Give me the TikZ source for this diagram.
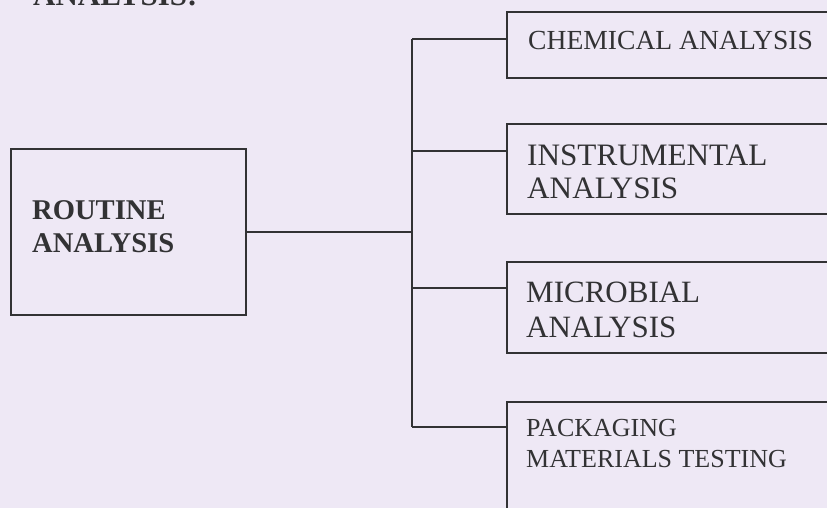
\documentclass[tikz,border=0pt]{standalone}
\usepackage{fontspec}
\setmainfont{Liberation Serif}
\definecolor{paper}{RGB}{238,232,245}
\definecolor{ink}{RGB}{50,50,52}
\tikzset{
  boxline/.style={draw=ink, line width=2pt, rectangle, inner sep=0pt},
  wire/.style={draw=ink, line width=1.9pt},
  txt/.style={anchor=base west, inner sep=0pt, text=ink},
}
\begin{document}
\begin{tikzpicture}[x=1pt,y=-1pt]
\useasboundingbox (0,0) rectangle (827,508);
\clip (0,0) rectangle (827,508);
\fill[paper] (0,0) rectangle (827,508);

% title fragment (cut off at the top, as in the reference)
\node[txt, font=\fontsize{31}{33}\selectfont\bfseries] (title) at (33,6) {ANALYSIS:};

% boxes
\node[boxline, minimum width=235pt, minimum height=165pt] (routine) at (128.5,232) {};
\node[boxline, minimum width=340pt, minimum height=66pt] (chem) at (677,45) {};
\node[boxline, minimum width=340pt, minimum height=90pt] (instr) at (677,169) {};
\node[boxline, minimum width=340pt, minimum height=91pt] (micro) at (677,307.5) {};
\node[boxline, minimum width=340pt, minimum height=130pt] (pack) at (677,467) {};

% texts
\node[txt, font=\fontsize{28.6}{30}\selectfont\bfseries] (r1) at (32,219) {ROUTINE};
\node[txt, font=\fontsize{28.6}{30}\selectfont\bfseries] (r2) at (32,252) {ANALYSIS};
\node[txt, font=\fontsize{27.6}{30}\selectfont] (c1) at (528,50) {CHEMICAL ANALYSIS};
\node[txt, font=\fontsize{31.2}{33}\selectfont] (i1) at (527,165) {INSTRUMENTAL};
\node[txt, font=\fontsize{31.2}{33}\selectfont] (i2) at (527,198) {ANALYSIS};
\node[txt, font=\fontsize{31}{33}\selectfont] (m1) at (526,302) {MICROBIAL};
\node[txt, font=\fontsize{31}{33}\selectfont] (m2) at (526,337) {ANALYSIS};
\node[txt, font=\fontsize{26}{30}\selectfont] (p1) at (526,436) {PACKAGING};
\node[txt, font=\fontsize{26}{30}\selectfont] (p2) at (526,467) {MATERIALS TESTING};

% trunk coordinates
\coordinate (tA) at (412,39);
\coordinate (tB) at (412,151);
\coordinate (tC) at (412,288);
\coordinate (tD) at (412,427);

% connectors
\draw[wire] (routine.east) -- (routine.east -| tA);
\draw[wire] (tA) -- (tD);
\draw[wire] (tA) -- (tA -| chem.west);
\draw[wire] (tB) -- (tB -| instr.west);
\draw[wire] (tC) -- (tC -| micro.west);
\draw[wire] (tD) -- (tD -| pack.west);
\end{tikzpicture}
\end{document}
